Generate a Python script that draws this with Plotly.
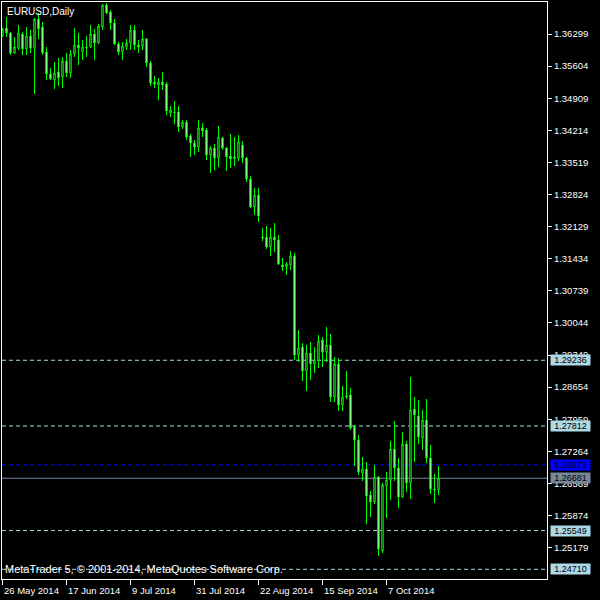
import pandas as pd
import plotly.graph_objects as go

# ---- data (EURUSD daily) ----
dates = [d.strftime("%Y-%m-%d") for d in pd.bdate_range("2014-05-26", periods=110)]

opens = [1.36256, 1.36429, 1.36321, 1.35888, 1.35996, 1.36299, 1.35974, 1.36256, 1.35996, 1.36624,
         1.36450, 1.35909, 1.35433, 1.35303, 1.35476, 1.35368, 1.35714, 1.35455, 1.35866, 1.36061,
         1.35909, 1.36017, 1.36017, 1.36299, 1.36104, 1.36450, 1.36927, 1.36775, 1.36537, 1.36082,
         1.35909, 1.36017, 1.36104, 1.36386, 1.36061, 1.36039, 1.36191, 1.35671, 1.35260, 1.35195,
         1.35260, 1.35216, 1.34589, 1.34610, 1.34610, 1.34286, 1.34394, 1.34091, 1.33939, 1.33852,
         1.34264, 1.34221, 1.33679, 1.33831, 1.33614, 1.34048, 1.33831, 1.33658, 1.33636, 1.33614,
         1.33896, 1.33614, 1.33160, 1.32553, 1.32813, 1.31904, 1.31904, 1.31687, 1.31904, 1.31839,
         1.31298, 1.31255, 1.31298, 1.31493, 1.29349, 1.29522, 1.29003, 1.29393, 1.29154, 1.29219,
         1.29674, 1.29414, 1.29566, 1.28440, 1.29154, 1.28267, 1.28462, 1.28483, 1.27790, 1.27509,
         1.26795, 1.26881, 1.26318, 1.26167, 1.26708, 1.25106, 1.26513, 1.26643, 1.27314, 1.26903,
         1.26275, 1.27422, 1.26578, 1.28180, 1.28029, 1.27552, 1.27942, 1.27119, 1.26448, 1.26427]

highs = [1.36429, 1.36667, 1.36342, 1.36234, 1.36494, 1.36342, 1.36450, 1.36386, 1.36645, 1.36754,
         1.36559, 1.36017, 1.35563, 1.35693, 1.35779, 1.35801, 1.35888, 1.35953, 1.36429, 1.36321,
         1.36169, 1.36256, 1.36494, 1.36407, 1.36515, 1.36948, 1.36970, 1.36819, 1.36624, 1.36126,
         1.36126, 1.36191, 1.36494, 1.36494, 1.36169, 1.36386, 1.36212, 1.35714, 1.35390, 1.35346,
         1.35476, 1.35260, 1.34740, 1.34848, 1.34740, 1.34437, 1.34437, 1.34134, 1.34004, 1.34437,
         1.34372, 1.34264, 1.33874, 1.33917, 1.34307, 1.34069, 1.33852, 1.34134, 1.34069, 1.34112,
         1.33982, 1.33636, 1.33225, 1.32965, 1.32965, 1.32099, 1.32142, 1.32099, 1.32207, 1.31947,
         1.31450, 1.31363, 1.31601, 1.31558, 1.29891, 1.29609, 1.29566, 1.29631, 1.29522, 1.29782,
         1.29739, 1.29956, 1.29804, 1.29306, 1.29284, 1.28678, 1.29003, 1.28635, 1.27834, 1.27617,
         1.27141, 1.27032, 1.26405, 1.26968, 1.26730, 1.26578, 1.26816, 1.27487, 1.27920, 1.27119,
         1.27682, 1.27487, 1.28873, 1.28440, 1.28375, 1.28159, 1.28397, 1.27401, 1.26773, 1.26946]

lows = [1.36234, 1.36234, 1.35844, 1.35866, 1.35953, 1.35844, 1.35844, 1.35888, 1.35000, 1.36191,
        1.35844, 1.35303, 1.35303, 1.35108, 1.35173, 1.35130, 1.35368, 1.35346, 1.35801, 1.35628,
        1.35736, 1.35801, 1.35996, 1.35736, 1.36082, 1.36386, 1.36732, 1.36386, 1.36061, 1.35844,
        1.35736, 1.35953, 1.35953, 1.35953, 1.35888, 1.35953, 1.35585, 1.35173, 1.35130, 1.34870,
        1.35087, 1.34545, 1.34502, 1.34351, 1.34177, 1.34242, 1.34004, 1.33636, 1.33679, 1.33744,
        1.34069, 1.33571, 1.33290, 1.33355, 1.33420, 1.33788, 1.33333, 1.33398, 1.33441, 1.33549,
        1.33506, 1.33095, 1.32532, 1.32380, 1.32229, 1.31817, 1.31644, 1.31493, 1.31579, 1.31298,
        1.31168, 1.31082, 1.31190, 1.29241, 1.29198, 1.28786, 1.28570, 1.28808, 1.28960, 1.29068,
        1.29089, 1.29198, 1.28332, 1.28332, 1.28137, 1.28137, 1.28397, 1.27726, 1.26946, 1.26751,
        1.26621, 1.25691, 1.25842, 1.26124, 1.24998, 1.25063, 1.25820, 1.26210, 1.26621, 1.26037,
        1.26253, 1.26383, 1.26232, 1.27032, 1.27422, 1.27293, 1.27011, 1.26340, 1.26145, 1.26318]

closes = [1.36407, 1.36321, 1.35888, 1.36017, 1.36321, 1.35974, 1.36256, 1.35996, 1.36624, 1.36407,
          1.35888, 1.35433, 1.35325, 1.35455, 1.35346, 1.35714, 1.35455, 1.35866, 1.36061, 1.35996,
          1.36017, 1.36006, 1.36299, 1.36104, 1.36472, 1.36927, 1.36754, 1.36537, 1.36082, 1.35909,
          1.36039, 1.36104, 1.36386, 1.36061, 1.36017, 1.36191, 1.35671, 1.35238, 1.35216, 1.35260,
          1.35195, 1.34632, 1.34654, 1.34600, 1.34286, 1.34394, 1.34069, 1.33939, 1.33852, 1.34264,
          1.34199, 1.33679, 1.33831, 1.33614, 1.34069, 1.33831, 1.33636, 1.33593, 1.33604, 1.33961,
          1.33614, 1.33160, 1.32553, 1.32813, 1.32359, 1.31882, 1.31687, 1.31904, 1.31839, 1.31320,
          1.31255, 1.31320, 1.31493, 1.29349, 1.29501, 1.29003, 1.29393, 1.29154, 1.29241, 1.29652,
          1.29414, 1.29566, 1.28440, 1.29154, 1.28267, 1.28440, 1.28440, 1.27769, 1.27509, 1.26816,
          1.26881, 1.26297, 1.26167, 1.26708, 1.25149, 1.26535, 1.26643, 1.27314, 1.26903, 1.26275,
          1.27422, 1.26578, 1.28159, 1.28050, 1.27574, 1.27942, 1.27119, 1.26448, 1.26427, 1.26681]

price_ticks = [1.36299, 1.35604, 1.34909, 1.34214, 1.33519, 1.32824, 1.32129, 1.31434, 1.30739,
               1.30044, 1.29349, 1.28654, 1.27959, 1.27264, 1.26569, 1.25874, 1.25179]
date_tick_vals = ["2014-05-26", "2014-06-17", "2014-07-09", "2014-07-31", "2014-08-22",
                  "2014-09-15", "2014-10-07"]
date_tick_text = ["26 May 2014", "17 Jun 2014", "9 Jul 2014", "31 Jul 2014", "22 Aug 2014",
                  "15 Sep 2014", "7 Oct 2014"]

level_prices = [1.29236, 1.27812, 1.25549, 1.24710]
blue_level = 1.26973
bid_level = 1.26681

y_range = [1.24500, 1.36992]
x_range = [-0.125, 136.125]

FONT = "Liberation Sans"

fig = go.Figure()
fig.add_trace(go.Candlestick(
    x=dates, open=opens, high=highs, low=lows, close=closes,
    increasing=dict(line=dict(color="#00ff00", width=1), fillcolor="#000000"),
    decreasing=dict(line=dict(color="#00ff00", width=1), fillcolor="#ffffff"),
    whiskerwidth=0, showlegend=False, hoverinfo="skip",
))

shapes = []
for p in level_prices:
    shapes.append(dict(type="line", xref="paper", x0=0, x1=1, yref="y", y0=p, y1=p,
                       line=dict(color="#add8e6", width=1, dash="4px,3px"), layer="below"))
shapes.append(dict(type="line", xref="paper", x0=0, x1=1, yref="y", y0=blue_level, y1=blue_level,
                   line=dict(color="#0000ff", width=1, dash="4px,3px"), layer="below"))
shapes.append(dict(type="line", xref="paper", x0=0, x1=1, yref="y", y0=bid_level, y1=bid_level,
                   line=dict(color="#778899", width=1), layer="below"))

annotations = []
def price_box(p, bg):
    annotations.append(dict(xref="paper", x=1, xanchor="left", xshift=3, yref="y", y=p,
                            yanchor="middle", text=f"{p:.5f}", showarrow=False,
                            bgcolor=bg, borderpad=0, width=39, height=10,
                            font=dict(family=FONT, size=9, color="#000000")))
for p in level_prices:
    price_box(p, "#add8e6")
price_box(blue_level, "#0000ff")
price_box(bid_level, "#778899")

for v, t in zip(date_tick_vals, date_tick_text):
    annotations.append(dict(xref="x", x=v, xanchor="left", xshift=-1, yref="paper", y=0,
                            yanchor="top", yshift=-4, text=t, showarrow=False,
                            font=dict(family=FONT, size=9.5, color="#ffffff")))

annotations.append(dict(xref="paper", x=0, xanchor="left", xshift=3, yref="paper", y=1,
                        yanchor="top", yshift=-2, text="EURUSD,Daily", showarrow=False,
                        font=dict(family=FONT, size=10, color="#ffffff")))
annotations.append(dict(xref="paper", x=0, xanchor="left", xshift=1, yref="paper", y=0,
                        yanchor="bottom", yshift=2,
                        text="MetaTrader 5, © 2001-2014, MetaQuotes Software Corp.",
                        showarrow=False, font=dict(family=FONT, size=11, color="#ffffff")))

fig.update_layout(
    width=600, height=600,
    margin=dict(l=2, r=53, t=2, b=21),
    paper_bgcolor="#000000", plot_bgcolor="#000000",
    shapes=shapes, annotations=annotations,
    showlegend=False, boxgap=0.5,
    xaxis=dict(type="category", range=x_range, rangeslider=dict(visible=False),
               showgrid=False, zeroline=False, showline=True, mirror=True,
               linecolor="#ffffff", linewidth=1,
               tickmode="array", tickvals=date_tick_vals, ticktext=date_tick_text,
               showticklabels=False, ticks="outside", ticklen=5, tickcolor="#ffffff"),
    yaxis=dict(side="right", range=y_range, showgrid=False, zeroline=False,
               showline=True, mirror=True, linecolor="#ffffff", linewidth=1,
               tickmode="array", tickvals=price_ticks,
               ticktext=[f"{v:.5f}" for v in price_ticks],
               ticks="outside", ticklen=4, tickcolor="#ffffff",
               tickfont=dict(family=FONT, size=9.5, color="#ffffff")),
)

fig.write_html("out.html", config={"displayModeBar": False},
               post_script="document.body.style.margin='0px';document.body.style.background='#000';")
